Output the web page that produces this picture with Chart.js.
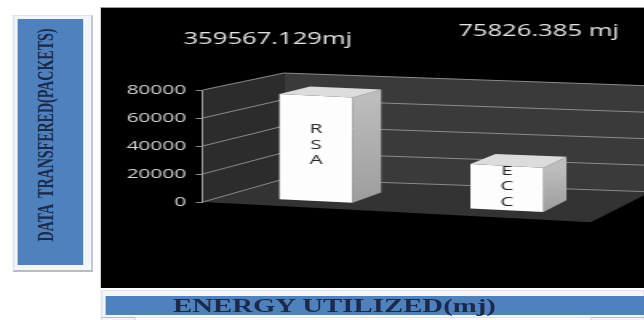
<!DOCTYPE html>
<html>
<head>
<meta charset="utf-8">
<title>Data transferred vs energy utilized</title>
<script src="https://cdn.jsdelivr.net/npm/chart.js"></script>
<style>
  html, body { margin: 0; padding: 0; background: #ffffff; overflow: hidden; }
  body { width: 644px; height: 320px; }
  /* the figure is laid out narrow and widened horizontally as a whole */
  #fig { position: absolute; left: 0; top: 0; width: 402.5px; height: 320px;
         transform: scaleX(1.6); transform-origin: 0 0; }
  .frame { position: absolute; background: #f2f5f9; border: 1px solid #dfe3e8; box-sizing: border-box; }
  .blue { position: absolute; background: #4f81bd; }
  .ylabel { position: absolute; left: calc(50% - 2.5px); top: calc(50% - 7px);
            transform: translate(-50%, -50%) rotate(-90deg); white-space: pre;
            font: bold 14px "Liberation Serif", serif; color: #1b2a4c; }
  .xlabel { position: absolute; left: 42.5px; top: 50%; transform: translateY(-50%);
            white-space: pre; font: bold 18px "Liberation Serif", serif; color: #1b2a4c; }
  #plot { position: absolute; left: 62.5px; top: 7px; width: 340px; height: 281px;
          background: #000000; border-top: 1px solid #9a9a9a; box-sizing: border-box; }
  #wrap { position: absolute; left: 0; top: -1px; width: 340px; height: 281px; }
</style>
</head>
<body>
<div id="fig">
  <div class="frame" style="left:7.5px;top:15px;width:50px;height:257px;border-right:1px solid #b8bcc2;border-bottom:2px solid #b8bcc2;"></div>
  <div class="blue" style="left:10.6px;top:19px;width:41.3px;height:246px;">
    <div class="ylabel">DATA  TRANSFERED(PACKETS)</div>
  </div>
  <div id="plot"><div id="wrap"><canvas id="chart"></canvas></div></div>
  <div class="frame" style="left:62.5px;top:290px;width:340px;height:28px;"></div>
  <div class="blue" style="left:65.6px;top:296px;width:337px;height:19px;">
    <div class="xlabel">ENERGY UTILIZED(mj)</div>
  </div>
  <div class="frame" style="left:62.5px;top:317px;width:22px;height:6px;border-top:1px solid #b8bcc2;"></div>
  <div class="frame" style="left:368.75px;top:317px;width:34px;height:6px;border-top:1px solid #b8bcc2;"></div>
</div>

<script>
// Chart values
const categories = ['RSA', 'ECC'];
const packets = [76500, 32500];
const energyLabels = ['359567.129mj', '75826.385 mj'];
const yTicks = [0, 20000, 40000, 60000, 80000];

// Pseudo-3D box geometry: a point on the front plane (pixel x, pixel y)
// is pushed back by a depth fraction d (0 = front, 1 = back wall).
const depth = {
  dx: 50.6, dy: -23, converge: 0.072,
  kFront: 0.0832, kBack: 0.056, sBack: 0.946,
  front: 0.22, back: 0.62
};

function projector(chart) {
  const area = chart.chartArea;
  const y0 = chart.scales.y.getPixelForValue(0);
  const x0 = area.left;
  return (x, y, d) => {
    const fx = x, fy = y + depth.kFront * (x - x0);
    const bx = x + depth.dx - depth.converge * (x - x0);
    const by = y0 + depth.dy + depth.sBack * (y - y0) + depth.kBack * (1 - depth.converge) * (x - x0);
    return [fx + d * (bx - fx), fy + d * (by - fy)];
  };
}

function fillPoly(ctx, pts, style) {
  ctx.beginPath();
  pts.forEach((p, i) => i ? ctx.lineTo(p[0], p[1]) : ctx.moveTo(p[0], p[1]));
  ctx.closePath();
  ctx.fillStyle = style;
  ctx.fill();
}

const boxPlugin = {
  id: 'box3d',
  beforeDraw(chart) {
    const ctx = chart.ctx, a = chart.chartArea, ys = chart.scales.y;
    const P = projector(chart);
    const yb = ys.getPixelForValue(0), yt = ys.getPixelForValue(yTicks[yTicks.length - 1]);
    const xl = a.left, xr = a.right + 5;
    ctx.save();
    fillPoly(ctx, [P(xl, yb, 0), P(xl, yt, 0), P(xl, yt, 1), P(xl, yb, 1)], '#2c2c2c');
    fillPoly(ctx, [P(xl, yt, 1), P(xr, yt, 1), P(xr, yb, 1), P(xl, yb, 1)], '#3a3a3a');
    fillPoly(ctx, [P(xl, yb, 0), P(a.right, yb, 0), P(xr, yb, 1), P(xl, yb, 1)], '#333333');
    ctx.strokeStyle = '#8c8c8c';
    ctx.lineWidth = 1;
    yTicks.forEach(v => {
      const yy = ys.getPixelForValue(v);
      const p0 = P(xl, yy, 0), p1 = P(xl, yy, 1), p2 = P(xr, yy, 1);
      ctx.beginPath();
      ctx.moveTo(p0[0], p0[1]); ctx.lineTo(p1[0], p1[1]); ctx.lineTo(p2[0], p2[1]);
      ctx.stroke();
    });
    ctx.restore();
  },
  beforeDatasetsDraw(chart) {
    // bars are drawn by the library on the plane set back by depth.front
    const P = projector(chart), d = depth.front;
    const o = P(0, 0, d), px = P(1, 0, d), py = P(0, 1, d);
    chart.ctx.save();
    chart.ctx.transform(px[0] - o[0], px[1] - o[1], py[0] - o[0], py[1] - o[1], o[0], o[1]);
  },
  afterDatasetsDraw(chart) {
    const ctx = chart.ctx;
    ctx.restore();
    const P = projector(chart), f = depth.front, b = depth.back;
    const meta = chart.getDatasetMeta(0);
    ctx.save();
    meta.data.forEach((el, i) => {
      const {x, y, base, width} = el.getProps(['x', 'y', 'base', 'width'], true);
      const L = x - width / 2, R = x + width / 2;
      const s0 = P(R, y, f), s1 = P(R, y, b), s2 = P(R, base, b), s3 = P(R, base, f);
      const g = ctx.createLinearGradient(s0[0], s0[1], s3[0], s3[1]);
      g.addColorStop(0, '#bdbdbd'); g.addColorStop(1, '#9d9d9d');
      fillPoly(ctx, [s0, s1, s2, s3], g);
      fillPoly(ctx, [P(L, y, f), P(R, y, f), P(R, y, b), P(L, y, b)], '#dcdcdc');

      // category name written down the front face
      const letters = categories[i].split('');
      const c = P(x, y + 0.47 * (base - y), f);
      ctx.font = '13px "Open Sans"';
      ctx.fillStyle = '#222222';
      ctx.textAlign = 'center';
      ctx.textBaseline = 'middle';
      letters.forEach((ch, k) => {
        ctx.fillText(ch, c[0], c[1] + (k - (letters.length - 1) / 2) * 15.5);
      });
    });
    ctx.restore();
  },
  afterDraw(chart) {
    const ctx = chart.ctx, a = chart.chartArea;
    const meta = chart.getDatasetMeta(0);
    const offsets = chart.options.plugins.box3d.labelOffsets;
    ctx.save();
    ctx.font = '16px "Open Sans"';
    ctx.fillStyle = '#e6e6e6';
    ctx.textAlign = 'center';
    ctx.textBaseline = 'middle';
    meta.data.forEach((el, i) => {
      ctx.fillText(energyLabels[i], el.x + offsets[i].dx, a.top + offsets[i].dy);
    });
    ctx.restore();
  }
};

new Chart(document.getElementById('chart'), {
  type: 'bar',
  data: {
    labels: categories,
    datasets: [{
      data: packets,
      backgroundColor: '#fdfdfd',
      borderWidth: 0,
      barPercentage: 0.383,
      categoryPercentage: 1,
      clip: false
    }]
  },
  options: {
    responsive: true,
    maintainAspectRatio: false,
    animation: false,
    events: [],
    layout: { padding: { left: 0, top: 83, right: 33.75, bottom: 86 } },
    plugins: {
      legend: { display: false },
      tooltip: { enabled: false },
      box3d: { labelOffsets: [{ dx: -20, dy: -51 }, { dx: 28, dy: -59 }] }
    },
    scales: {
      x: { display: false },
      y: {
        min: yTicks[0],
        max: yTicks[yTicks.length - 1],
        afterBuildTicks: s => { s.ticks = yTicks.map(v => ({ value: v })); },
        afterFit: s => { s.width = 63.75; },
        ticks: {
          color: '#d8d8d8',
          font: { family: 'Open Sans', size: 13 },
          padding: 6,
          callback: v => String(v)
        },
        grid: { drawOnChartArea: false, drawTicks: true, tickLength: 4.4, color: '#8c8c8c' },
        border: { display: true, color: '#9a9a9a' }
      }
    }
  },
  plugins: [boxPlugin]
});
</script>
</body>
</html>
